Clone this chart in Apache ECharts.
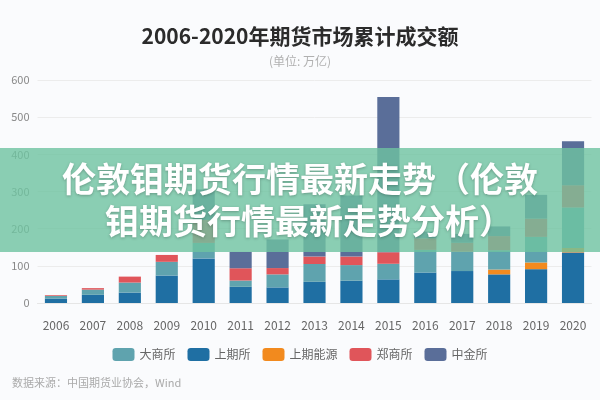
<!DOCTYPE html>
<html><head><meta charset="utf-8">
<script src="https://cdn.jsdelivr.net/npm/echarts@6/dist/echarts.min.js"></script>
<style>html,body{margin:0;padding:0;background:#fafbfd;}#c{width:600px;height:400px;}</style>
</head><body><div id="c"></div>
<script>
const years = ['2006','2007','2008','2009','2010','2011','2012','2013','2014','2015','2016','2017','2018','2019','2020'];
const shfe  = [12, 22, 28, 73.8, 120, 43.5, 42, 57, 60, 63.6, 82, 86, 77, 91, 136];
const ine   = [0, 0, 0, 0, 0, 0, 0, 0, 0, 0, 0, 0, 13, 18, 12];
const dce   = [7, 14, 27, 37, 41.7, 17, 35, 48, 42, 41.9, 61, 52, 52, 69, 109];
const czce  = [2, 4, 16, 18.5, 61.7, 33, 17, 20, 23, 31, 31, 24, 38, 49, 60];
const cffex = [0, 0, 0, 0, 82.1, 44, 77, 141, 164, 417.7, 18, 24, 26, 64, 118];
const yTicks = [0, 100, 200, 300, 400, 500, 600];

const chart = echarts.init(document.getElementById('c'));
const font = '"Noto Sans CJK SC", "Noto Sans", sans-serif';
function s(name, data, color) {
  return { name, type: 'bar', stack: 'all', data, barWidth: '60%', itemStyle: { color } };
}
chart.setOption({
  backgroundColor: '#fafbfd',
  animation: false,
  textStyle: { fontFamily: font },
  title: {
    text: '2006-2020年期货市场累计成交额',
    subtext: '(单位: 万亿)',
    left: 'center', top: 21, itemGap: 8,
    textStyle: { fontSize: 21, fontWeight: 'bold', color: '#2b2b2b', fontFamily: font },
    subtextStyle: { fontSize: 12, color: '#b0b0b0', fontFamily: font }
  },
  grid: { left: 37.5, right: 8.5, top: 80, bottom: 97, containLabel: false },
  legend: {
    bottom: 34, left: 'center', itemWidth: 22, itemHeight: 13, itemGap: 12,
    icon: 'roundRect',
    textStyle: { fontSize: 12, color: '#666' },
    data: ['大商所', '上期所', '上期能源', '郑商所', '中金所']
  },
  xAxis: {
    type: 'category', data: years,
    axisTick: { show: false },
    axisLine: { lineStyle: { color: '#e6e6e6' } },
    axisLabel: { color: '#666', fontSize: 12, margin: 16 }
  },
  yAxis: {
    type: 'value', min: yTicks[0], max: yTicks[yTicks.length - 1], interval: 100,
    axisLabel: { color: '#888', fontSize: 11, margin: 8 },
    splitLine: { lineStyle: { color: '#ececec' } }
  },
  series: [
    s('上期所', shfe, '#1f6fa3'),
    s('上期能源', ine, '#f28a1e'),
    s('大商所', dce, '#5fa3ae'),
    s('郑商所', czce, '#e0555a'),
    s('中金所', cffex, '#5a6e99')
  ],
  graphic: [
    { type: 'text', left: 12, top: 377, z: 10,
      style: { text: '数据来源：中国期货业协会，Wind', fill: '#aaa', fontSize: 11, fontFamily: font } },
    { type: 'rect', left: 0, top: 148, z: 100,
      shape: { width: 600, height: 104 },
      style: { fill: 'rgba(110,195,160,0.8)' } },
    { type: 'text', left: 'center', top: 162, z: 101,
      style: { text: '伦敦钼期货行情最新走势（伦敦', fill: '#fff', fontSize: 34, fontWeight: 'bold', fontFamily: font,
        textShadowColor: 'rgba(0,0,0,0.25)', textShadowBlur: 3, textShadowOffsetY: 1 } },
    { type: 'text', x: 300 + 9, y: 204, z: 101,
      style: { text: '钼期货行情最新走势分析）', align: 'center', fill: '#fff', fontSize: 34, fontWeight: 'bold', fontFamily: font,
        textShadowColor: 'rgba(0,0,0,0.25)', textShadowBlur: 3, textShadowOffsetY: 1 } }
  ]
});
</script></body></html>
